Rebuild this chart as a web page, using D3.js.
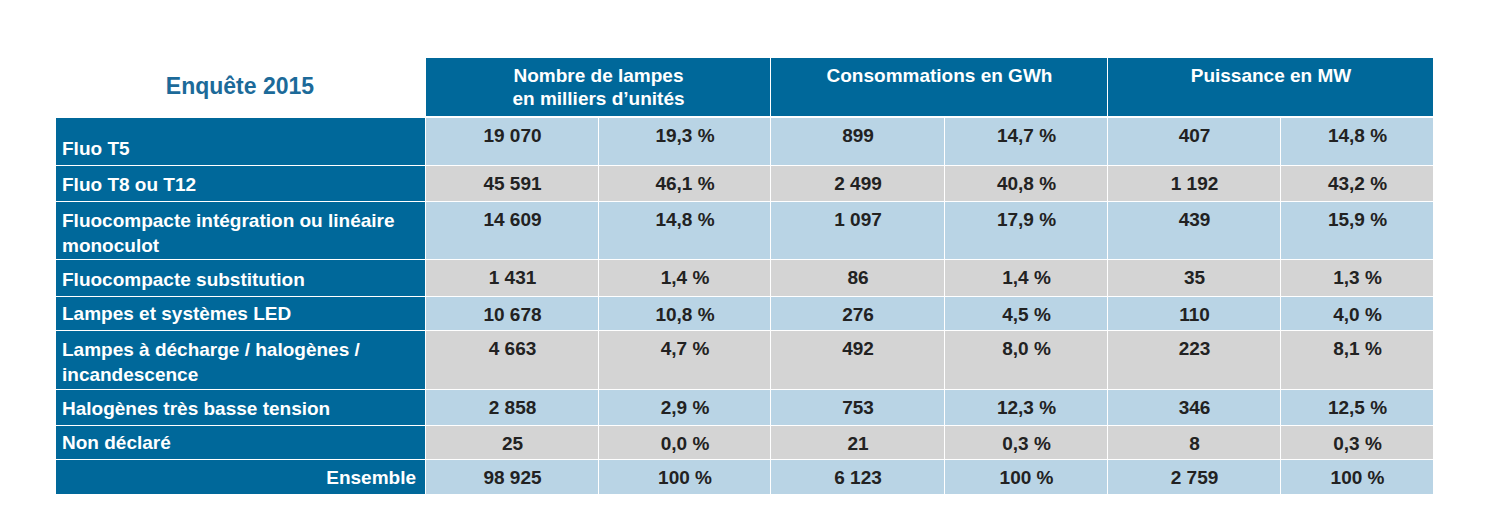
<!DOCTYPE html><html><head><meta charset="utf-8">
<script src="https://cdn.jsdelivr.net/npm/d3@7"></script>
<style>body{margin:0;background:#fff}text{font-family:"Liberation Sans Narrow","Liberation Sans",sans-serif;font-weight:bold}</style></head><body>
<svg id="c" width="1492" height="523"></svg>
<script>
const title="Enquête 2015";
const groups=[["Nombre de lampes","en milliers d’unités"],["Consommations en GWh"],["Puissance en MW"]];
const categories=[["Fluo T5"],["Fluo T8 ou T12"],["Fluocompacte intégration ou linéaire","monoculot"],["Fluocompacte substitution"],["Lampes et systèmes LED"],["Lampes à décharge / halogènes /","incandescence"],["Halogènes très basse tension"],["Non déclaré"],["Ensemble"]];
const lampes=["19 070","45 591","14 609","1 431","10 678","4 663","2 858","25","98 925"];
const lampesPct=["19,3 %","46,1 %","14,8 %","1,4 %","10,8 %","4,7 %","2,9 %","0,0 %","100 %"];
const conso=["899","2 499","1 097","86","276","492","753","21","6 123"];
const consoPct=["14,7 %","40,8 %","17,9 %","1,4 %","4,5 %","8,0 %","12,3 %","0,3 %","100 %"];
const puiss=["407","1 192","439","35","110","223","346","8","2 759"];
const puissPct=["14,8 %","43,2 %","15,9 %","1,3 %","4,0 %","8,1 %","12,5 %","0,3 %","100 %"];
const rowEdges=[118,166,202,260,297,331,390,426,460,495];
const colEdges=[426,599,771,945,1108,1281,1434];
const cols=[lampes,lampesPct,conso,consoPct,puiss,puissPct];
const svg=d3.select("#c");
const blue="#00689a",light="#b9d4e5",gray="#d4d4d4";
svg.append("text").attr("x",240).attr("y",94).attr("text-anchor","middle").attr("fill","#1c6a99").attr("font-size",23).text(title);
groups.forEach((g,i)=>{const x0=colEdges[i*2],x1=colEdges[i*2+2];
 svg.append("rect").attr("x",x0).attr("y",58).attr("width",x1-x0-1).attr("height",58).attr("fill",blue);
 g.forEach((l,j)=>svg.append("text").attr("x",(x0+x1)/2).attr("y",82+j*23).attr("text-anchor","middle").attr("fill","#fff").attr("font-size",19).text(l));});
categories.forEach((c,r)=>{const y0=rowEdges[r],y1=rowEdges[r+1],h=y1-y0-1;
 svg.append("rect").attr("x",56).attr("y",y0).attr("width",369).attr("height",h).attr("fill",blue);
 const last=r===categories.length-1;
 c.forEach((l,j)=>svg.append("text").attr("x",last?416:62).attr("text-anchor",last?"end":"start")
   .attr("y",c.length>1?y0+25+j*25:y1-11).attr("fill","#fff").attr("font-size",19).text(l));
 cols.forEach((col,k)=>{const x0=colEdges[k],x1=colEdges[k+1];
  svg.append("rect").attr("x",x0).attr("y",y0).attr("width",x1-x0-1).attr("height",h).attr("fill",r%2?gray:light);
  svg.append("text").attr("x",(x0+x1)/2).attr("y",y0+24).attr("text-anchor","middle").attr("fill","#222")
   .attr("font-size",19).attr("font-weight",(k%2===0||last)?"bold":"normal").text(col[r]);});
});
</script></body></html>
